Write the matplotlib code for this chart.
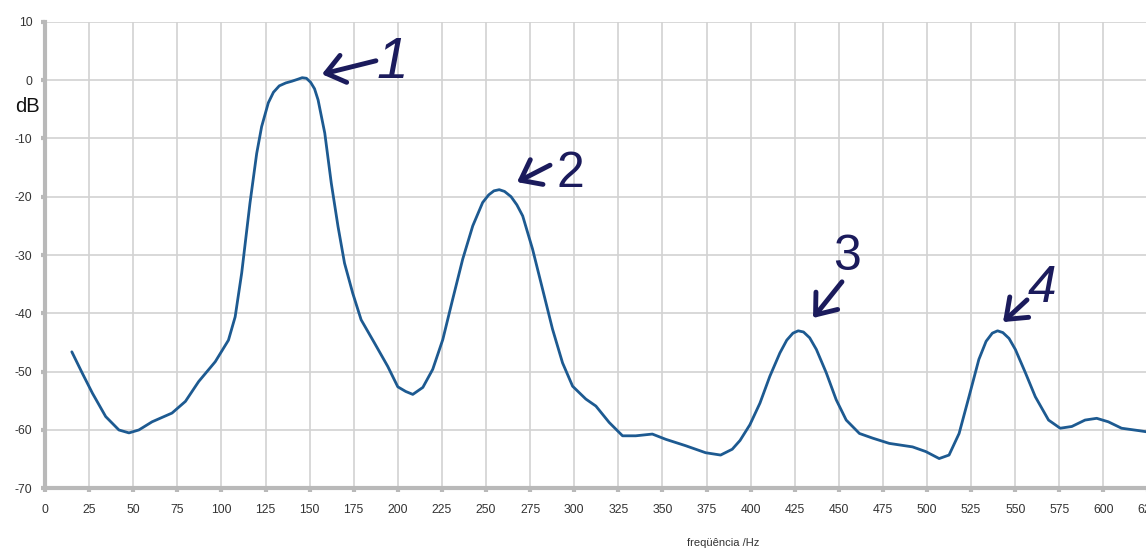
import matplotlib
matplotlib.use("Agg")
import matplotlib.pyplot as plt

# ---- data ----
freq_hz = [15.2, 21.2, 26.9, 34.4, 41.9, 47.6, 53.2, 60.7, 72.0, 79.6, 87.1, 96.5,
           104.0, 107.8, 111.5, 116.2, 120.0, 122.8, 126.6, 129.5, 132.8, 136.5,
           140.0, 143.0, 145.8, 148.2, 150.6, 152.8, 154.8, 158.6, 162.3, 166.1,
           169.8, 174.5, 179.2, 186.8, 194.3,
           200.0, 204.5, 208.5, 214.2, 219.8, 225.5, 231.1, 236.8, 242.5, 248.1,
           251.5, 254.5, 257.5, 260.5, 264.2, 267.5, 270.8, 276.4, 282.1, 287.7,
           293.4, 299.1, 306.6,
           312.3, 319.8, 327.4, 334.9, 344.3, 351.9, 363.2, 374.5, 383.0, 389.6,
           394.0, 399.6, 405.3, 410.9, 416.6, 420.5, 424.0, 427.0, 430.0, 433.5,
           437.3, 442.9,
           448.5, 454.2, 461.7, 469.2, 478.6, 491.8, 499.3, 506.9, 512.5, 518.2,
           523.8, 529.4, 533.5, 537.0, 540.0, 543.0, 546.5, 550.1, 555.8, 561.4,
           568.9, 575.5,
           582.1, 589.6, 596.2, 602.8, 610.3, 619.8, 624.2]
level_db = [-46.6, -50.3, -53.7, -57.7, -60.0, -60.5, -60.0, -58.6, -57.1, -55.1, -51.7, -48.3,
            -44.6, -40.6, -33.1, -21.1, -12.6, -8.0, -3.9, -2.1, -1.0, -0.5,
            -0.2, 0.1, 0.4, 0.3, -0.4, -1.5, -3.4, -9.1, -17.7, -25.1,
            -31.4, -36.6, -41.1, -45.1, -49.1,
            -52.6, -53.4, -53.9, -52.7, -49.6, -44.5, -37.6, -30.7, -25.0, -21.0,
            -19.7, -19.0, -18.8, -19.1, -20.0, -21.4, -23.3, -29.0, -35.9, -42.7,
            -48.5, -52.5, -54.7,
            -55.9, -58.7, -61.0, -61.0, -60.7, -61.6, -62.7, -63.9, -64.3, -63.3,
            -61.8, -59.1, -55.4, -50.8, -46.8, -44.6, -43.4, -43.0, -43.2, -44.2,
            -46.2, -50.2,
            -54.8, -58.3, -60.6, -61.4, -62.3, -62.9, -63.7, -64.9, -64.3, -60.6,
            -54.3, -47.9, -44.8, -43.4, -43.0, -43.3, -44.3, -46.2, -50.2, -54.3,
            -58.3, -59.7,
            -59.4, -58.3, -58.0, -58.6, -59.7, -60.1, -60.3]

x_ticks = list(range(0, 626, 25))
y_ticks = list(range(-70, 11, 10))

peak_labels = ["1", "2", "3", "4"]
peak_label_style = ["italic", "normal", "normal", "italic"]
peak_label_size = [41, 36, 36, 37]
# arrow tip (x, y), arrow tail (x, y), label baseline position (x, y) in data units
arrow_tips = [(157.0, 1.0), (267.6, -17.5), (435.4, -40.8), (543.1, -41.5)]
arrow_tails = [(187.6, 3.3), (286.3, -14.6), (451.8, -34.6), (556.7, -37.7)]
label_pos = [(197.0, 0.3), (297.6, -18.3), (454.5, -32.6), (565.0, -38.0)]

# ---- figure ----
W, H = 1146, 550
fig = plt.figure(figsize=(W / 100, H / 100), dpi=100)
plt.rcParams['font.family'] = ['Liberation Sans', 'DejaVu Sans']

left_px, px_per_hz = 45, 1.764
x_max = 640
ax_w = x_max * px_per_hz / W
ax = fig.add_axes([left_px / W, (H - 488.3) / H, ax_w, (488.3 - 21.7) / H])

line_col = "#1d5a91"
grid_col = "#d2d2d2"
axis_col = "#b9b9b9"
ann_col = "#1b1b5c"

ax.plot(freq_hz, level_db, color=line_col, lw=2.0, solid_joinstyle="round",
        solid_capstyle="round", zorder=3)

ax.set_xlim(0, x_max)
ax.set_ylim(-70, 10)
ax.set_xticks(x_ticks)
ax.set_yticks(y_ticks)
ax.set_xticklabels([str(v) for v in x_ticks])
ax.set_yticklabels([str(v) for v in y_ticks])

ax.grid(True, color=grid_col, lw=1.2, zorder=0)
for s in ["top", "right"]:
    ax.spines[s].set_visible(False)
for s in ["left", "bottom"]:
    ax.spines[s].set_color(axis_col)
    ax.spines[s].set_linewidth(3.0)
ax.tick_params(axis="both", colors=axis_col, length=3, width=3,
               labelsize=8.8, labelcolor="#333333")
ax.tick_params(axis="x", pad=8)
ax.tick_params(axis="y", pad=6)

for lab, sty, fs, tip, tail, pos in zip(peak_labels, peak_label_style, peak_label_size,
                                        arrow_tips, arrow_tails, label_pos):
    ax.annotate("", xy=tip, xytext=tail,
                arrowprops=dict(arrowstyle="->,head_length=0.65,head_width=0.5",
                                color=ann_col, lw=3.5, shrinkA=0, shrinkB=0,
                                mutation_scale=20, capstyle="round", joinstyle="round"),
                zorder=4)
    ax.text(pos[0], pos[1], lab, fontsize=fs, style=sty, color=ann_col,
            ha="center", va="baseline", zorder=4)

fig.text(27 / W, 1 - 106 / H, "dB", fontsize=14.5, color="#111111",
         ha="center", va="center")
fig.text(723 / W, 1 - 543 / H, "freqüência /Hz", fontsize=8, color="#333333",
         ha="center", va="center")

fig.savefig("out.png", dpi=100)
